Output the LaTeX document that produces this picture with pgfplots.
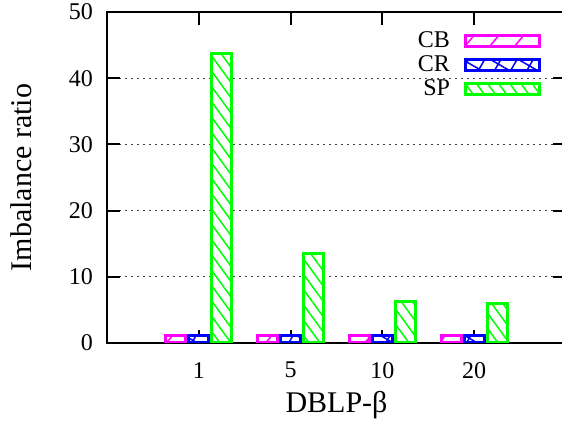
\documentclass[border=0pt]{standalone}
\usepackage{pgfplots}
\pgfplotsset{compat=1.18}
\usepackage{fontspec}
\setmainfont{Liberation Serif}
\usetikzlibrary{patterns.meta}
\definecolor{cbcol}{RGB}{255,0,255}
\definecolor{crcol}{RGB}{0,0,255}
\definecolor{spcol}{RGB}{0,255,0}
\pgfplotsset{
  mybar/.style={ybar, bar width=20bp, line width=3bp, fill=white,
    legend image code/.code={\draw[##1] (0bp,-5.5bp) rectangle (74bp,5.5bp);}},
}
\begin{document}
\begin{tikzpicture}
\path[use as bounding box] (0,0) rectangle (562bp,423bp);
\begin{axis}[
  at={(107bp,80bp)}, anchor=south west,
  scale only axis, width=459bp, height=331bp,
  xmin=0, xmax=5, ymin=0, ymax=50,
  xtick={1,2,3,4}, xticklabels={1,5,10,20},
  ytick={0,10,20,30,40,50},
  /pgf/number format/assume math mode=true,
  tick label style={font=\fontsize{24bp}{28bp}\selectfont},
  yticklabel style={inner sep=0pt, xshift=-14bp},
  xticklabel style={inner sep=0pt, yshift=-19bp},
  major tick length=13bp,
  tick style={line width=2bp, black},
  axis line style={line width=2bp},
  ymajorgrids,
  grid style={black!75, line width=1bp, dash pattern=on 2bp off 4bp},
  xlabel={DBLP-β}, ylabel={Imbalance ratio},
  label style={font=\fontsize{30bp}{34bp}\selectfont},
  xlabel style={at={(axis description cs:0.5,-0.187)}, anchor=center, inner sep=0pt},
  ylabel style={at={(axis description cs:-0.186,0.5)}, anchor=center, inner sep=0pt},
  legend style={draw=none, fill=none, at={(axis description cs:0.947,0.946)}, anchor=north east,
    font=\fontsize{24bp}{28bp}\selectfont, inner sep=0pt,
    nodes={inner sep=0.5bp, text height=17bp, text depth=3bp},
    column sep=14bp, row sep=3bp},
  legend cell align=right,
  legend plot pos=right,
]
\addplot[mybar, bar shift=-23bp, draw=cbcol,
  postaction={pattern={Lines[angle=50,distance=19bp,line width=1.5bp]}, pattern color=cbcol}]
  coordinates {(1,1.1) (2,1.1) (3,1.1) (4,1.1)};
\addlegendentry{CB}
\addplot[mybar, bar shift=0bp, draw=crcol,
  postaction={pattern={Hatch[angle=60,distance=14bp,line width=1.5bp]}, pattern color=crcol}]
  coordinates {(1,1.1) (2,1.1) (3,1.1) (4,1.1)};
\addlegendentry{CR}
\addplot[mybar, bar shift=23bp, draw=spcol,
  postaction={pattern={Lines[angle=-54,distance=9bp,line width=1.5bp]}, pattern color=spcol}]
  coordinates {(1,43.7) (2,13.5) (3,6.3) (4,6.0)};
\addlegendentry{SP}
\end{axis}
\end{tikzpicture}
\end{document}
